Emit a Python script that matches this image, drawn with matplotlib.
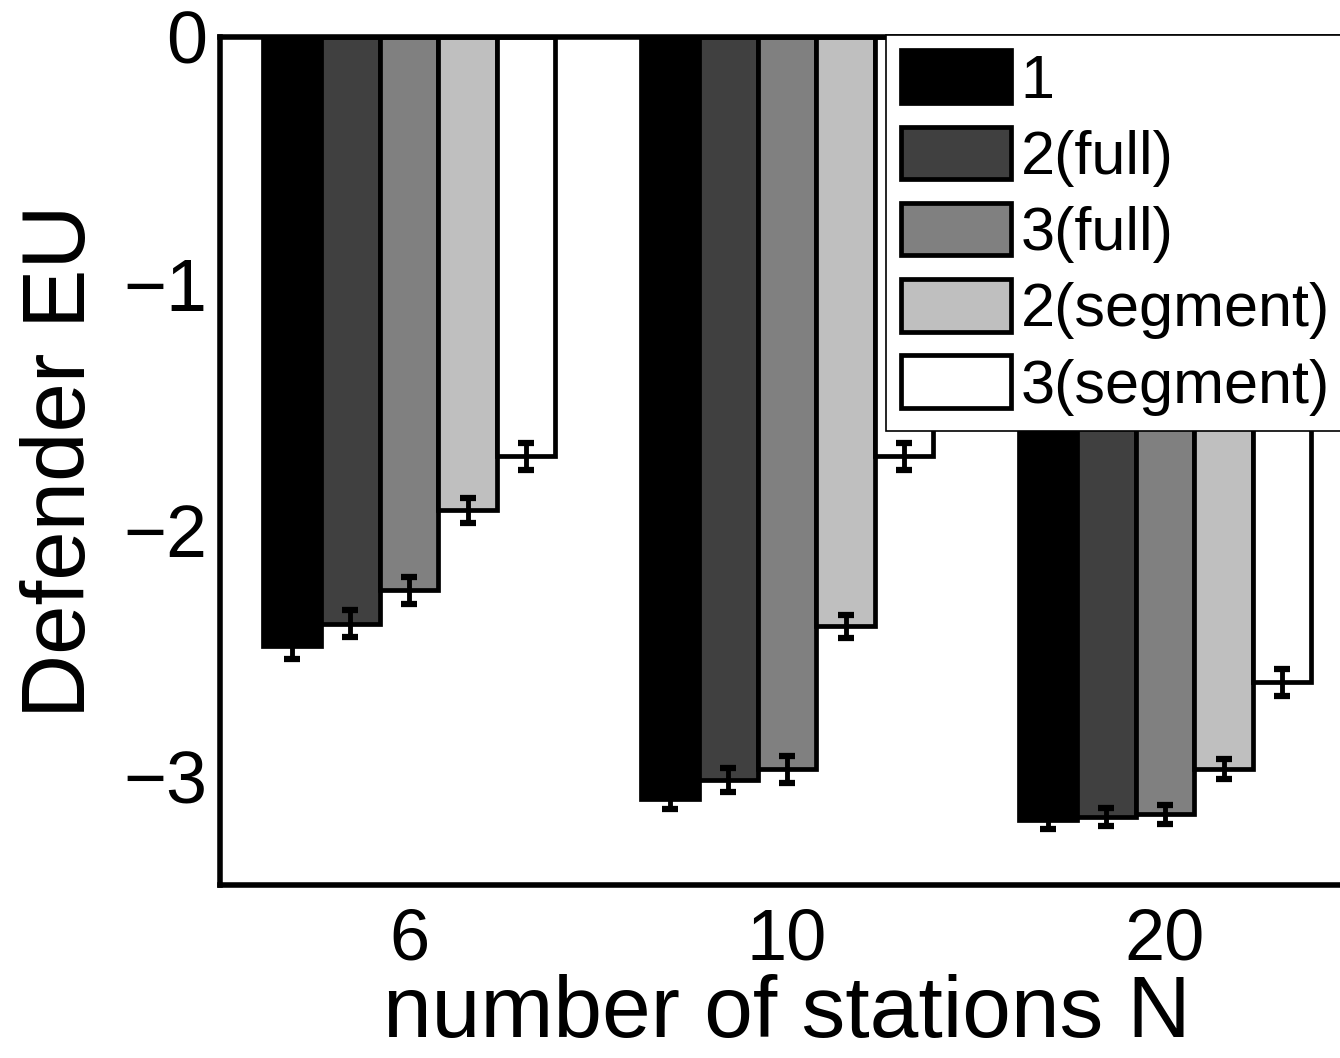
import matplotlib
matplotlib.use("Agg")
import matplotlib.pyplot as plt
import numpy as np

plt.rcParams['font.family'] = ['Liberation Sans', 'DejaVu Sans']

# number of stations N
groups = ["6", "10", "20"]
series = ["1", "2(full)", "3(full)", "2(segment)", "3(segment)"]
colors = ["#000000", "#404040", "#808080", "#bfbfbf", "#ffffff"]

# defender expected utility per series, one value per group
eu_1 = [-2.47, -3.09, -3.176]
eu_2_full = [-2.38, -3.014, -3.164]
eu_3_full = [-2.245, -2.97, -3.154]
eu_2_seg = [-1.92, -2.39, -2.97]
eu_3_seg = [-1.70, -1.70, -2.617]

err_1 = [0.055, 0.04, 0.037]
err_2_full = [0.055, 0.05, 0.037]
err_3_full = [0.055, 0.055, 0.037]
err_2_seg = [0.05, 0.047, 0.04]
err_3_seg = [0.055, 0.055, 0.055]

values = [eu_1, eu_2_full, eu_3_full, eu_2_seg, eu_3_seg]
errors = [err_1, err_2_full, err_3_full, err_2_seg, err_3_seg]

fig = plt.figure(figsize=(13.4, 10.58), dpi=100)
ax = fig.add_axes([220 / 1340, 173 / 1058, 1134 / 1340, 848 / 1058])

x = np.arange(1, len(groups) + 1)
w = 0.155
for i, (vals, errs) in enumerate(zip(values, errors)):
    pos = x + (i - 2) * w
    ax.bar(pos, vals, width=w, color=colors[i], edgecolor="black",
           linewidth=3.4, label=series[i], zorder=2)
    ax.errorbar(pos, vals, yerr=errs, fmt="none", ecolor="black",
                elinewidth=3.5, capsize=6, capthick=4.5, zorder=3)

ax.set_xlim(0.5, 3.5)
ax.set_ylim(-3.44, 0)
ax.set_yticks([0, -1, -2, -3])
ax.set_yticklabels(["0", "\u22121", "\u22122", "\u22123"])
ax.set_xticks(x)
ax.set_xticklabels(groups)
ax.tick_params(axis="both", length=0, labelsize=53)
ax.tick_params(axis="y", pad=9)
ax.tick_params(axis="x", pad=16, labelsize=52)
for s in ax.spines.values():
    s.set_linewidth(4)

ax.set_ylabel("Defender EU", fontsize=64, labelpad=14)
ax.set_xlabel("number of stations N", fontsize=63, labelpad=0)

leg = ax.legend(loc="upper left", bbox_to_anchor=(886 / 1340, 1 - 35 / 1058),
                bbox_transform=fig.transFigure, fontsize=44, frameon=True,
                fancybox=False, edgecolor="black", framealpha=1,
                handlelength=1.8, handleheight=0.95, handletextpad=0.15,
                labelspacing=0.26, borderpad=0.25, borderaxespad=0)
leg.get_frame().set_linewidth(1.2)

fig.savefig("out.png", dpi=100)
